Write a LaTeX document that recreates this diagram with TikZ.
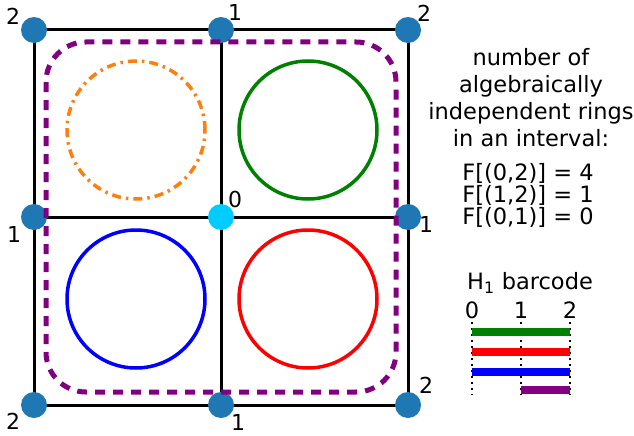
\documentclass[tikz,border=0pt]{standalone}
\usepackage{fontspec}
\setmainfont{DejaVu Sans}
\usetikzlibrary{positioning, calc, backgrounds}
\definecolor{dotblue}{HTML}{1F77B4}
\definecolor{dotcyan}{HTML}{00CCFF}
\definecolor{ringorange}{HTML}{FF7F0E}
\definecolor{ringgreen}{HTML}{008000}
\definecolor{ringpurple}{HTML}{800080}
\tikzset{
  vertex/.style={circle, fill=dotblue, minimum size=26pt, inner sep=0pt},
  num/.style={font=\fontsize{22}{26}\selectfont, inner sep=0pt},
  edge/.style={line width=3pt},
  ring/.style={circle, draw, line width=3.5pt, minimum size=138pt, inner sep=0pt},
  cycle/.style={draw=ringpurple, line width=5pt, dash pattern=on 10pt off 8pt, rounded corners=40pt},
  txt/.style={font=\fontsize{22.5}{27}\selectfont, align=center, inner sep=0pt},
  bar/.style={line width=8pt},
  tick/.style={line width=1.5pt, dash pattern=on 1.5pt off 4.5pt},
}
\begin{document}
\begin{tikzpicture}[x=1pt, y=-1pt]
  \useasboundingbox (0,0) rectangle (634,436);

  % vertices of the complex
  \node[vertex] (tl) at (34,30) {};
  \node[vertex] (tm) at (221,30) {};
  \node[vertex] (tr) at (408,30) {};
  \node[vertex] (ml) at (34,217) {};
  \node[vertex, fill=dotcyan] (mm) at (221,217) {};
  \node[vertex] (mr) at (408,217) {};
  \node[vertex] (bl) at (34,405) {};
  \node[vertex] (bm) at (221,405) {};
  \node[vertex] (br) at (408,405) {};

  % edges
  \begin{scope}[on background layer]
    \draw[edge] (tl.center) -- (tm.center) -- (tr.center) -- (mr.center) -- (br.center)
      -- (bm.center) -- (bl.center) -- (ml.center) -- cycle;
    \draw[edge] (tm.center) -- (mm.center) -- (bm.center);
    \draw[edge] (ml.center) -- (mm.center) -- (mr.center);
  \end{scope}

  % filtration values
  \node[num] (ntl) at (13,16) {2};
  \node[num] (ntm) at (235,12) {1};
  \node[num] (ntr) at (424,13) {2};
  \node[num] (nml) at (14,234) {1};
  \node[num] (nmm) at (235,199) {0};
  \node[num] (nmr) at (426,224) {1};
  \node[num] (nbl) at (13,421) {2};
  \node[num] (nbm) at (238,422) {1};
  \node[num] (nbr) at (426,385) {2};

  % rings
  \node[ring, draw=ringorange, dash pattern=on 9pt off 5pt on 2.5pt off 5pt] (rtl) at (136,130) {};
  \node[ring, draw=ringgreen] (rtr) at (308,130) {};
  \node[ring, draw=blue] (rbl) at (136,299) {};
  \node[ring, draw=red] (rbr) at (308,299) {};

  % outer ring
  \draw[cycle] (46,42) rectangle (396,392);

  % description
  \node[txt] (desc) at (531,98) {number of\\algebraically\\independent rings\\in an interval:};
  \node[txt, font=\fontsize{22.5}{22}\selectfont] (counts) at (528,195) {F[(0,2)] = 4\\F[(1,2)] = 1\\F[(0,1)] = 0};

  % barcode
  \node[txt] (bctitle) at (530,283) {H\textsubscript{1} barcode};
  \node[txt] (t0) at (472,310) {0};
  \node[txt] (t1) at (521,310) {1};
  \node[txt] (t2) at (570,310) {2};
  \coordinate (d0) at (472,395);
  \coordinate (d1) at (521,395);
  \coordinate (d2) at (570,395);
  \draw[tick] (t0.south |- 0,322) -- (d0);
  \draw[tick] (t1.south |- 0,322) -- (d1);
  \draw[tick] (t2.south |- 0,322) -- (d2);
  \draw[bar, ringgreen] (472,332) -- (570,332);
  \draw[bar, red] (472,352) -- (570,352);
  \draw[bar, blue] (472,372) -- (570,372);
  \draw[bar, ringpurple] (521,390) -- (570,390);
\end{tikzpicture}
\end{document}
